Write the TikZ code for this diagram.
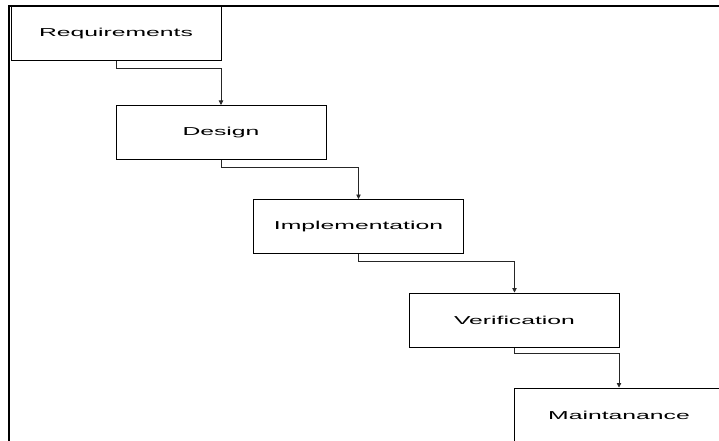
\documentclass[tikz,border=0pt]{standalone}
\usepackage{fontspec}
\setmainfont{Liberation Sans}
\usetikzlibrary{arrows.meta}
\newcommand{\wide}[1]{\scalebox{2.15}[1]{\fontsize{11.5}{13}\selectfont #1}}
\begin{document}
\begin{tikzpicture}[x=1pt,y=-1pt,
  stage/.style={draw=black, line width=1pt, fill=white, minimum width=210pt, minimum height=54pt, inner sep=0pt},
  conn/.style={draw=black!85, line width=0.8pt, -{Triangle[length=4.5pt,width=4.5pt]}},
  frameline/.style={draw=black, line width=2.4pt}]
\useasboundingbox (0,0) rectangle (719,441);
\clip (0,0) rectangle (719,441);
\draw[frameline] (9,441) -- (9,6) -- (720,6);
\node[stage] (req) at (116,34) {\wide{Requirements}};
\node[stage] (des) at (221,132.5) {\wide{Design}};
\node[stage] (imp) at (358.5,226.5) {\wide{Implementation}};
\node[stage] (ver) at (514.5,320) {\wide{Verification}};
\node[stage] (mai) at (619,415) {\wide{Maintanance}};
\draw[conn] (req.south) -- ++(0,7) -| (des.north);
\draw[conn] (des.south) -- ++(0,7) -| (imp.north);
\draw[conn] (imp.south) -- ++(0,7) -| (ver.north);
\draw[conn] (ver.south) -- ++(0,5.5) -| (mai.north);
\end{tikzpicture}
\end{document}
